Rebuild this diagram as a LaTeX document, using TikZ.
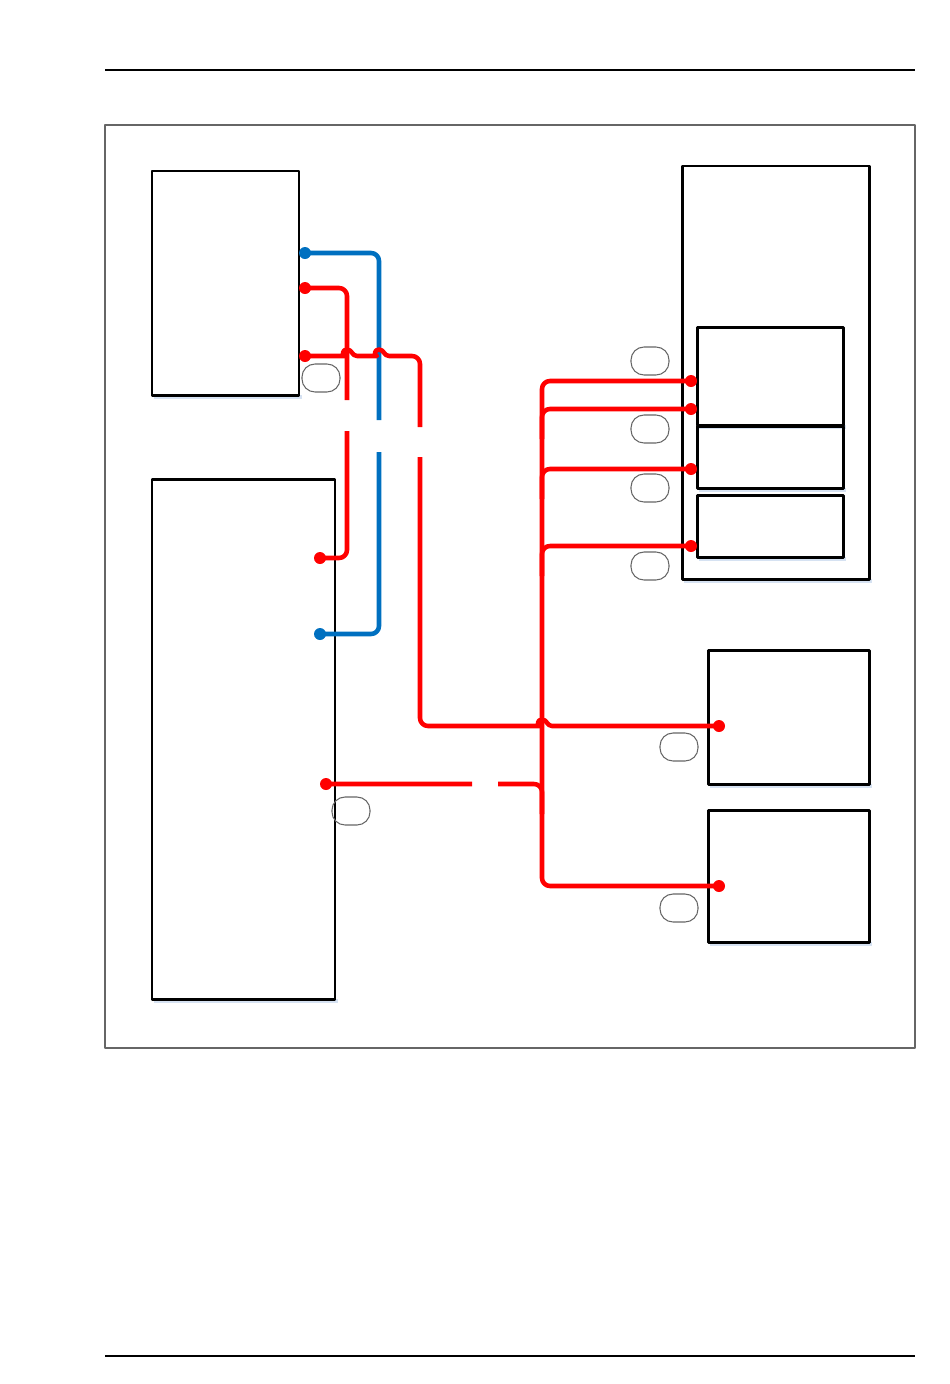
\documentclass[tikz,border=0pt]{standalone}
\usetikzlibrary{calc}
\definecolor{wirered}{RGB}{255,0,0}
\definecolor{wireblue}{RGB}{0,112,192}
\definecolor{shadowblue}{RGB}{214,226,242}
\tikzset{
	rule/.style={draw=black, line width=0.3pt},
	frame/.style={draw=black!60, line width=0.4pt},
	box/.style={draw=black, line width=0.85pt},
	wire/.style={line width=1.3pt, rounded corners=0.8mm},
	tag/.style={draw=black!60, line width=0.3pt, rounded corners=1.3mm, minimum width=3.8mm, minimum height=2.8mm, inner sep=0pt}
}
% hump of a wire that crosses another one
\newcommand{\hump}[1]{--([xshift=-1mm]#1) [sharp corners]
	.. controls ([xshift=-0.5mm]#1) and ([xshift=-0.5mm,yshift=0.65mm]#1) .. ([yshift=0.65mm]#1)
	.. controls ([xshift=0.5mm,yshift=0.65mm]#1) and ([xshift=0.5mm]#1) .. ([xshift=1mm]#1) [rounded corners=0.8mm]}
\begin{document}
\begin{tikzpicture}[x=0.1mm, y=-0.1mm, line join=round, line cap=butt]
	\useasboundingbox (0,0) rectangle (950,1384);
	\pgfmathsetmacro{\bx}{542}
	\draw[rule] (105,70)--(915,70) (105,1356)--(915,1356);
	\draw[frame] (105,125) rectangle (915,1048);
	% boxes
	\foreach \x/\y/\u/\v in {152/171/299/395, 152/479/335/999, 682/166/869/579,
		697/327/843/425, 697/426/843/488, 697/495/843/557,
		708/650/869/784, 708/810/869/942}{
		\fill[shadowblue] (\x+2,\v) rectangle (\u+3,\v+4);
		\draw[box] (\x,\y) rectangle (\u,\v);
	}
	% pins and gap ends
	\path (305,253)coordinate(a1) (305,288)coordinate(a2) (305,356)coordinate(a3)
	(320,558)coordinate(b1) (320,634)coordinate(b2) (326,784)coordinate(b3)
	(691,381)coordinate(c1) (691,409)coordinate(c2) (691,469)coordinate(c3) (691,546)coordinate(c4)
	(719,726)coordinate(d) (719,886)coordinate(e)
	(\bx,381)coordinate(bus)
	(379,420)coordinate(gb1) (379,452)coordinate(gb2)
	(347,400)coordinate(gr1) (347,431)coordinate(gr2)
	(420,427)coordinate(gs1) (420,457)coordinate(gs2)
	(472,784)coordinate(gt1) (498,784)coordinate(gt2);
	\path (a3-|gr1)coordinate(j1) (a3-|gb1)coordinate(j2) (d-|bus)coordinate(j3);
	% blue line
	\draw[wire, wireblue] (a1)--(a1-|gb1)--(gb1) (gb2)--(gb2|-b2)--(b2);
	% red lines
	\draw[wire, wirered] (a2)--(a2-|gr1)--(gr1) (gr2)--(gr2|-b1)--(b1);
	\draw[wire, wirered] (a3) \hump{j1} \hump{j2} --(a3-|gs1)--(gs1);
	\draw[wire, wirered] (gs2)--(gs2|-d) \hump{j3} --(d);
	\draw[wire, wirered] (c1)--(bus)--(bus|-e)--(e);
	\foreach \p in {c2,c3,c4} \draw[wire, wirered] (\p)--(\p-|bus)--++(0,30);
	\draw[wire, wirered] (b3)--(gt1) (gt2)--(gt2-|bus)--++(0,30);
	% dots
	\foreach \p in {a1,b2} \fill[wireblue] (\p) circle[radius=0.6mm];
	\foreach \p in {a2,a3,b1,b3,c1,c2,c3,c4,d,e} \fill[wirered] (\p) circle[radius=0.6mm];
	% tags
	\foreach \n/\x/\y in {t1/321/378, t2/650/361, t3/650/429, t4/650/488, t5/650/566,
		t6/679/747, t7/679/908, t8/351/811}
		\node[tag] (\n) at (\x,\y) {};
\end{tikzpicture}
\end{document}
